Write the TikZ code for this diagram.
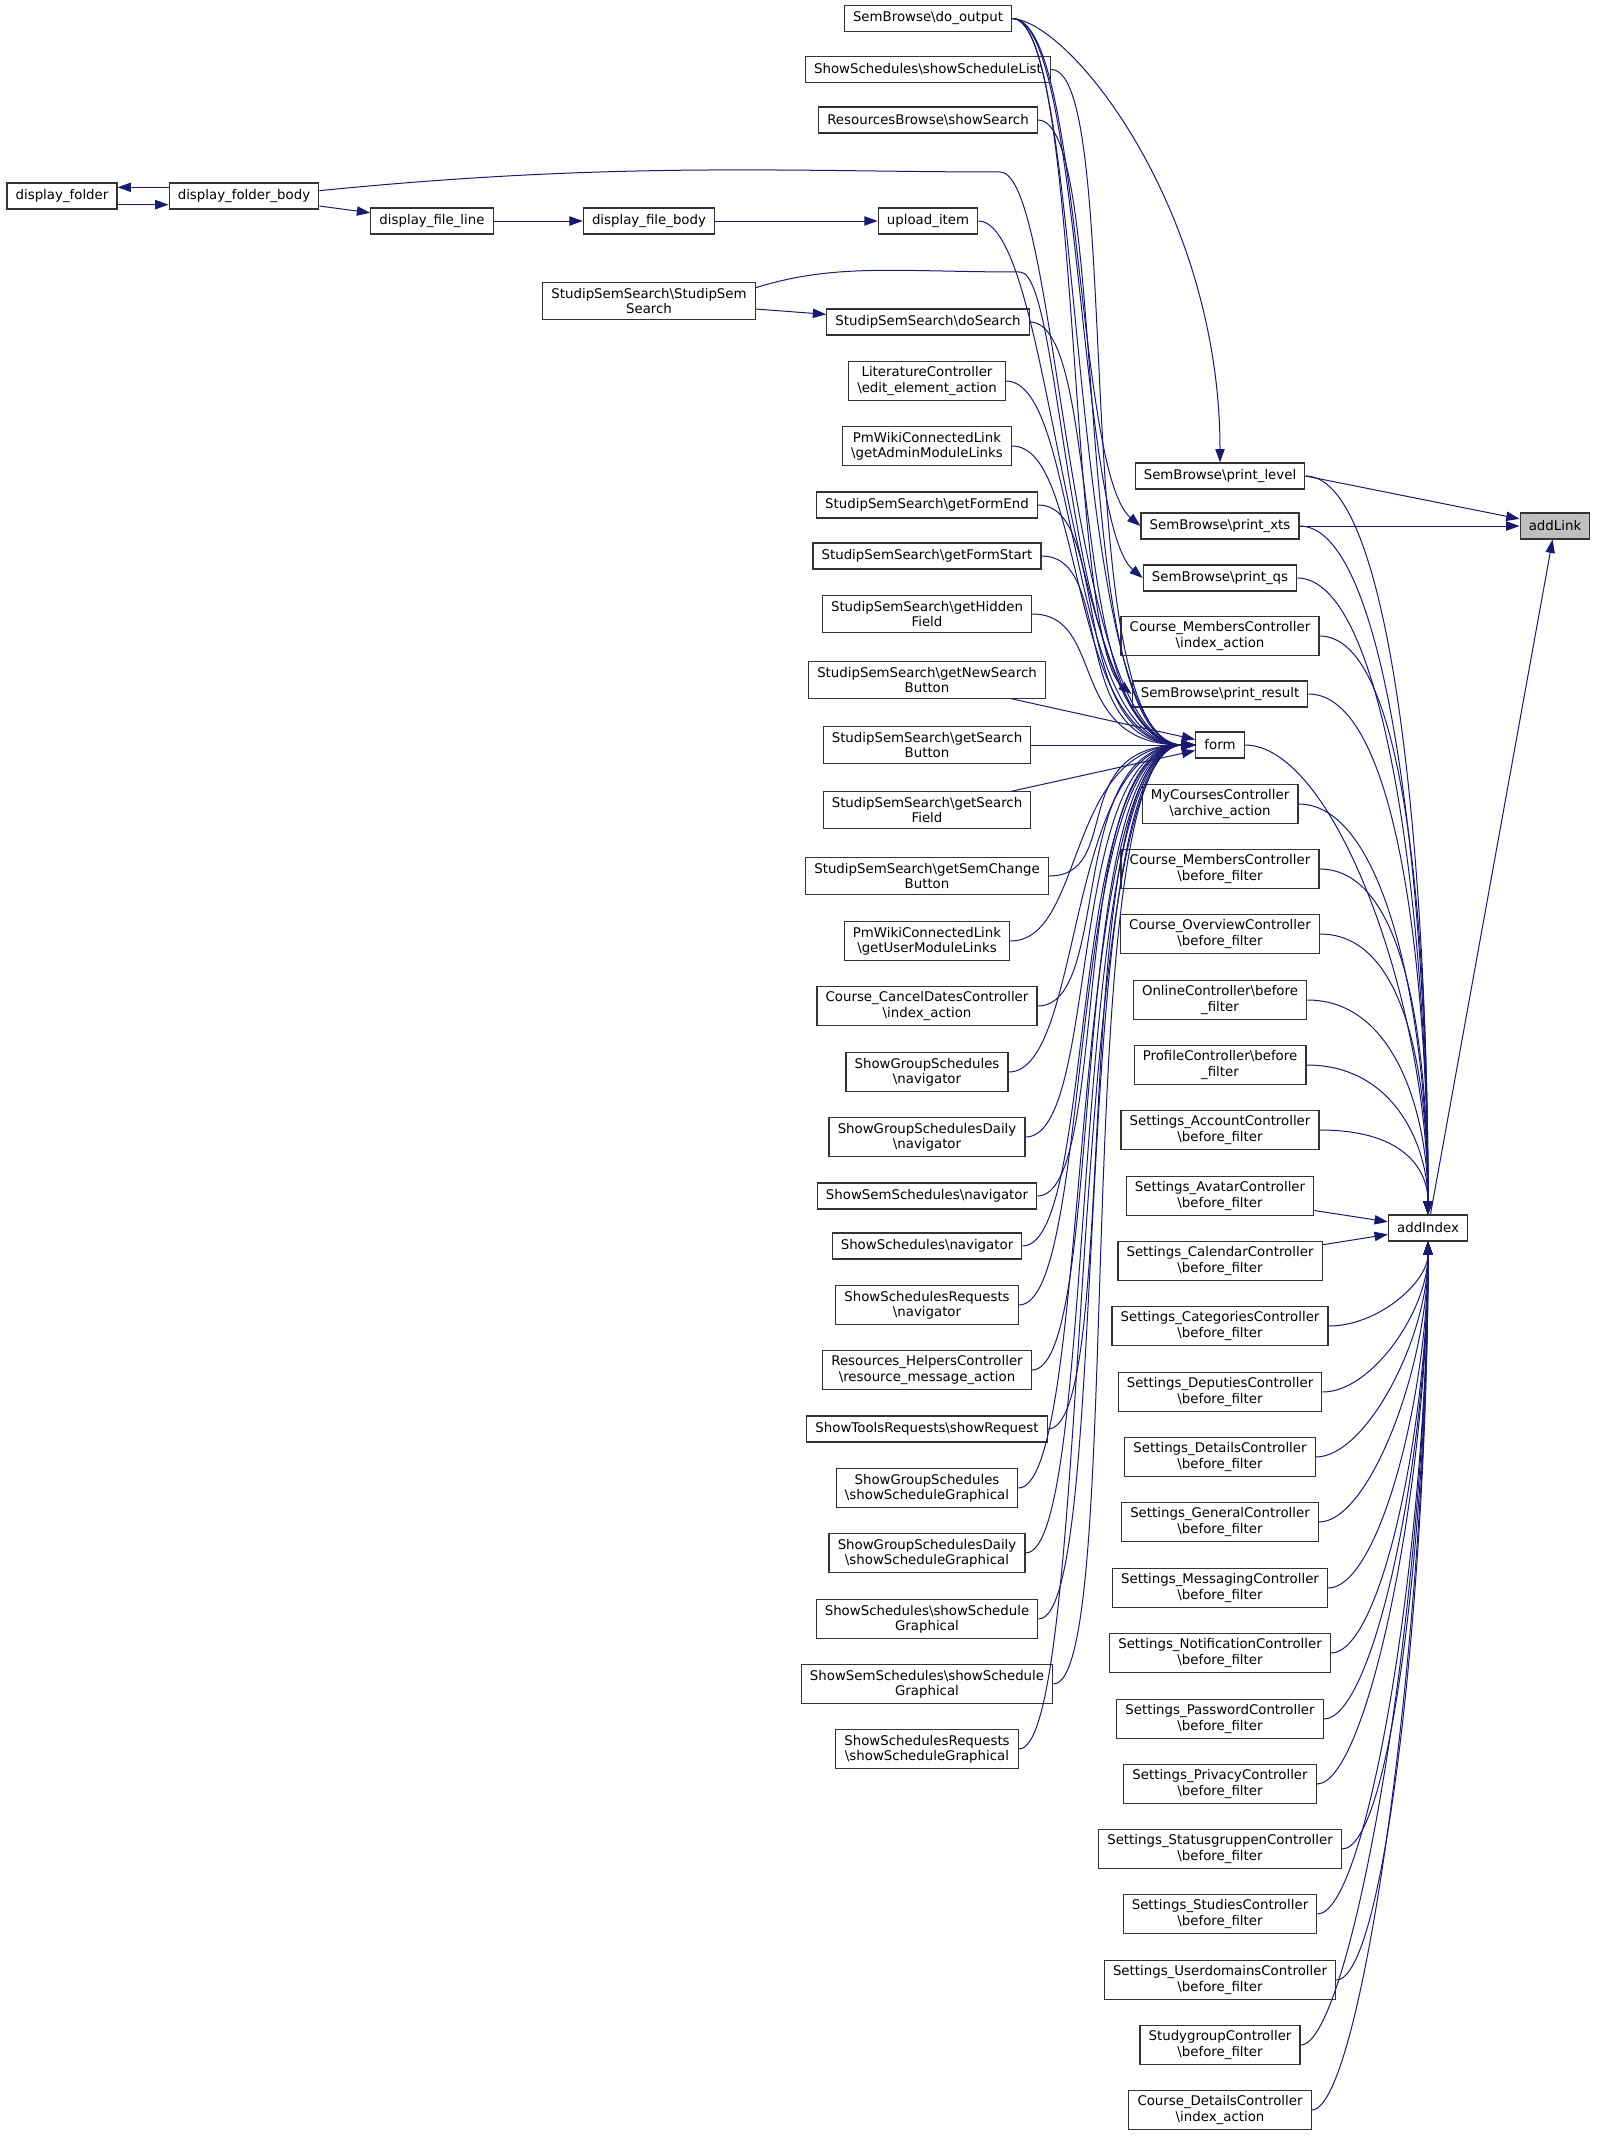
\documentclass[tikz,border=0pt]{standalone}
\usepackage{fontspec}
\setmainfont{DejaVu Sans}
\usepackage{tikz}
\usetikzlibrary{arrows.meta}
\definecolor{edgeblue}{RGB}{25,25,112}
\newcommand{\bsl}{\textbackslash}
\tikzset{
  fn/.style   = {draw=black!80, line width=0.9pt, fill=white, align=center,
                 font=\fontsize{10}{11.5}\selectfont, inner xsep=6.5pt,
                 inner ysep=4pt, minimum height=19.5pt},
  root/.style = {fn, fill=black!25},
  ar/.style   = {draw=edgeblue, line width=0.75pt,
                 -{Triangle[length=10pt,width=7pt]}},
}

\begin{document}
\begin{tikzpicture}[x=0.75pt, y=-0.75pt]
\path[fill=white] (0,0) rectangle (1597,2137);
\useasboundingbox (0,0) rectangle (1597,2137);

% far left chain
\node[fn] (df)   at (62,196)  {display\_folder};
\node[fn] (dfb)  at (244,196) {display\_folder\_body};
\node[fn] (dfl)  at (432,221) {display\_file\_line};
\node[fn] (dfbo) at (649,221) {display\_file\_body};
\node[fn] (sss)  at (649,301) {StudipSemSearch\bsl StudipSem\\Search};

% callers of form
\node[fn] (l1)  at (928,18.5) {SemBrowse\bsl do\_output};
\node[fn] (l2)  at (928,69.5) {ShowSchedules\bsl showScheduleList};
\node[fn] (l3)  at (928,120)  {ResourcesBrowse\bsl showSearch};
\node[fn] (l4)  at (928,221)  {upload\_item};
\node[fn] (l5)  at (928,322)  {StudipSemSearch\bsl doSearch};
\node[fn] (l6)  at (927,381)  {LiteratureController\\\bsl edit\_element\_action};
\node[fn] (l7)  at (927,446)  {PmWikiConnectedLink\\\bsl getAdminModuleLinks};
\node[fn] (l8)  at (927,505)  {StudipSemSearch\bsl getFormEnd};
\node[fn] (l9)  at (927,556)  {StudipSemSearch\bsl getFormStart};
\node[fn] (l10) at (927,614)  {StudipSemSearch\bsl getHidden\\Field};
\node[fn] (l11) at (927,680)  {StudipSemSearch\bsl getNewSearch\\Button};
\node[fn] (l12) at (927,745)  {StudipSemSearch\bsl getSearch\\Button};
\node[fn] (l13) at (927,810)  {StudipSemSearch\bsl getSearch\\Field};
\node[fn] (l14) at (927,876)  {StudipSemSearch\bsl getSemChange\\Button};
\node[fn] (l15) at (927,941)  {PmWikiConnectedLink\\\bsl getUserModuleLinks};
\node[fn] (l16) at (927,1006) {Course\_CancelDatesController\\\bsl index\_action};
\node[fn] (l17) at (927,1072) {ShowGroupSchedules\\\bsl navigator};
\node[fn] (l18) at (927,1137) {ShowGroupSchedulesDaily\\\bsl navigator};
\node[fn] (l19) at (927,1196) {ShowSemSchedules\bsl navigator};
\node[fn] (l20) at (927,1246) {ShowSchedules\bsl navigator};
\node[fn] (l21) at (927,1305) {ShowSchedulesRequests\\\bsl navigator};
\node[fn] (l22) at (927,1370) {Resources\_HelpersController\\\bsl resource\_message\_action};
\node[fn] (l23) at (927,1429) {ShowToolsRequests\bsl showRequest};
\node[fn] (l24) at (927,1488) {ShowGroupSchedules\\\bsl showScheduleGraphical};
\node[fn] (l25) at (927,1553) {ShowGroupSchedulesDaily\\\bsl showScheduleGraphical};
\node[fn] (l26) at (927,1619) {ShowSchedules\bsl showSchedule\\Graphical};
\node[fn] (l27) at (927,1684) {ShowSemSchedules\bsl showSchedule\\Graphical};
\node[fn] (l28) at (927,1749) {ShowSchedulesRequests\\\bsl showScheduleGraphical};

% callers of addIndex
\node[fn] (r1)   at (1220,476)  {SemBrowse\bsl print\_level};
\node[fn] (r2)   at (1220,526)  {SemBrowse\bsl print\_xts};
\node[fn] (r3)   at (1220,578)  {SemBrowse\bsl print\_qs};
\node[fn] (r4)   at (1220,636)  {Course\_MembersController\\\bsl index\_action};
\node[fn] (r5)   at (1220,694)  {SemBrowse\bsl print\_result};
\node[fn] (form) at (1220,745)  {form};
\node[fn] (r6)   at (1220,804)  {MyCoursesController\\\bsl archive\_action};
\node[fn] (r7)   at (1220,869)  {Course\_MembersController\\\bsl before\_filter};
\node[fn] (r8)   at (1220,934)  {Course\_OverviewController\\\bsl before\_filter};
\node[fn] (r9)   at (1220,1000) {OnlineController\bsl before\\\_filter};
\node[fn] (r10)  at (1220,1065) {ProfileController\bsl before\\\_filter};
\foreach \n/\nm/\y in {r11/Account/1130, r12/Avatar/1196, r13/Calendar/1261,
    r14/Categories/1326, r15/Deputies/1392, r16/Details/1457, r17/General/1522,
    r18/Messaging/1588, r19/Notification/1653, r20/Password/1719,
    r21/Privacy/1784, r22/Statusgruppen/1849, r23/Studies/1914,
    r24/Userdomains/1980}
  {\node[fn] (\n) at (1220,\y) {Settings\_\nm Controller\\\bsl before\_filter};}
\node[fn] (r25)  at (1220,2045) {StudygroupController\\\bsl before\_filter};
\node[fn] (r26)  at (1220,2110) {Course\_DetailsController\\\bsl index\_action};

\node[fn]   (addIndex) at (1428,1228) {addIndex};
\node[root] (addLink)  at (1555,526)  {addLink};

% left chain
\draw[ar] ([yshift=6.5pt]dfb.west) -- ([yshift=6.5pt]df.east);
\draw[ar] ([yshift=-6.5pt]df.east) -- ([yshift=-6.5pt]dfb.west);
\foreach \a/\b in {dfb/dfl, dfl/dfbo, dfbo/l4, sss/l5}{\draw[ar] (\a) -- (\b);}
\draw[ar] ([yshift=4pt]dfb.east) .. controls +(300,-30) and +(-200,0) .. (1000,172)
          .. controls +(60,0) and +(-130,0) .. (form.west);
\draw[ar] ([yshift=10pt]sss.east) .. controls +(80,-25) and +(-120,0) .. (1020,272)
          .. controls +(45,0) and +(-130,0) .. (form.west);

% into form
\foreach \n in {l1,l2,l3,l4,l5,l6,l7,l8,l9,l10,l14,l15,l16,l17,l18,l19,l20,
                l21,l22,l23,l24,l25,l26,l27,l28}
  {\draw[ar] (\n.east) .. controls +(75,0) and +(-130,0) .. (form.west);}
\foreach \n in {l11,l12,l13}{\draw[ar] (\n) -- (form);}

% do_output to SemBrowse
\draw[ar] (l1.east) .. controls +(60,4) and +(0,-250) .. (r1.north);
\foreach \n in {r2,r3,r5}
  {\draw[ar] (l1.east) .. controls +(70,0) and +(-65,-55) .. (\n.west);}

% into addIndex
\foreach \n/\k in {r1/330, r2/310, r3/285, r4/260, r5/235, form/210, r6/185,
                   r7/155, r8/125, r9/95, r10/65, r11/40}
  {\draw[ar] (\n.east) .. controls +(90,0) and +(0,-\k) .. (addIndex.north);}
\foreach \n in {r12,r13}{\draw[ar] (\n) -- (addIndex);}
\foreach \n/\k in {r14/40, r15/68, r16/97, r17/126, r18/156, r19/185, r20/215,
                   r21/244, r22/274, r23/303, r24/332, r25/362, r26/391}
  {\draw[ar] (\n.east) .. controls +(50,0) and +(0,\k) .. (addIndex.south);}

% into addLink
\draw[ar] (r1.east) -- (addLink);
\foreach \n in {r2,addIndex}{\draw[ar] (\n) -- (addLink);}
\end{tikzpicture}
\end{document}
